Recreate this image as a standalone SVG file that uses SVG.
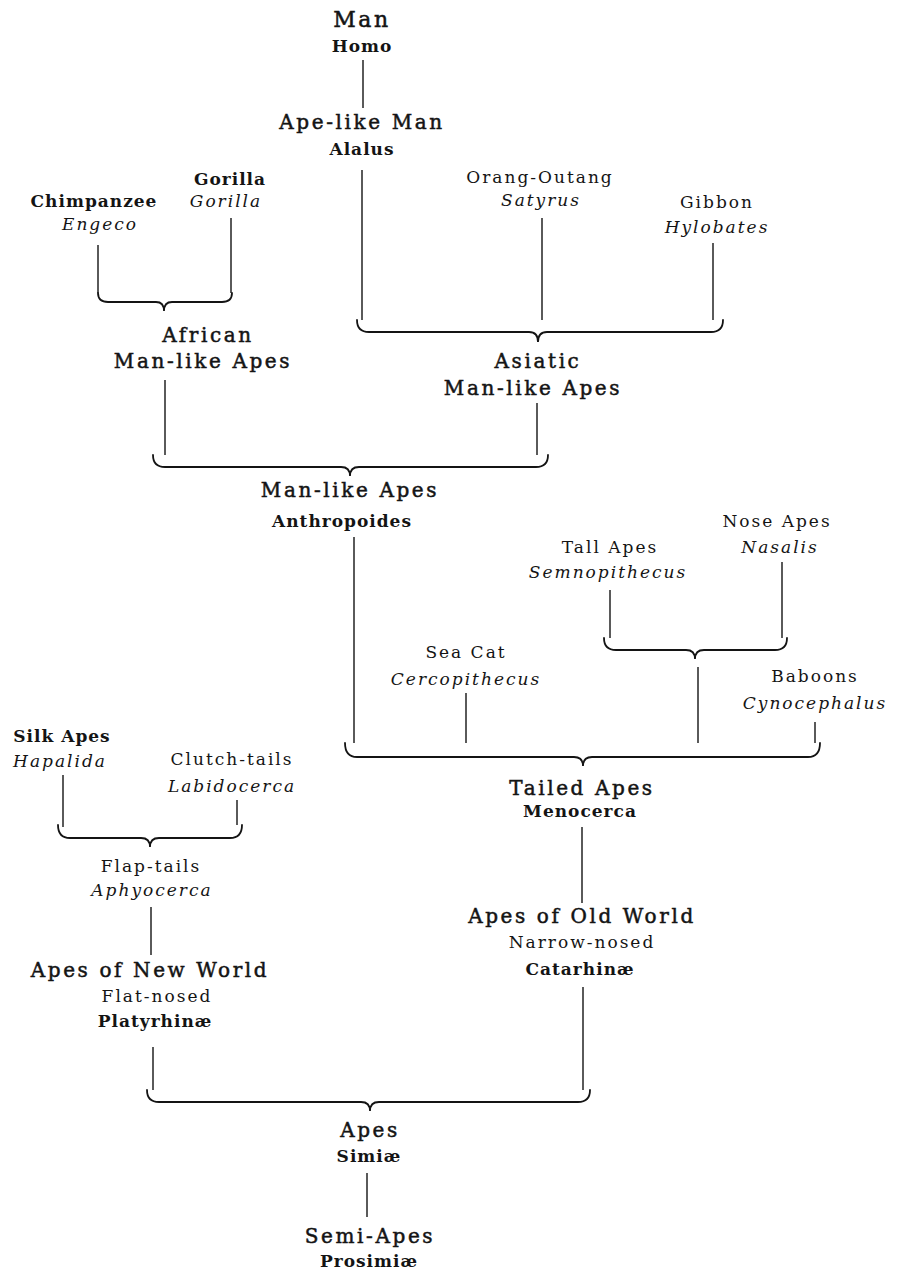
<svg xmlns="http://www.w3.org/2000/svg" width="899" height="1270" viewBox="0 0 899 1270">
  <style>
    text { fill: #141414; text-anchor: middle; font-family: "DejaVu Serif", "Liberation Serif", serif; }
    .frak { font-size: 20px; letter-spacing: 2.6px; stroke: #141414; stroke-width: 0.5px; }
    .reg { font-size: 17px; letter-spacing: 2px; }
    .bold { font-size: 17px; font-weight: bold; letter-spacing: 1px; }
    .ital { font-size: 17px; font-style: italic; letter-spacing: 2px; }
    .line { stroke: #141414; stroke-width: 1.4; fill: none; }
    .brace { stroke: #141414; stroke-width: 1.8; fill: none; stroke-linecap: round; }
  </style>
  <rect width="899" height="1270" fill="#ffffff"/>

  <!-- connectors: vertical stems and grouping braces -->
  <g id="connectors">
    <line class="line" x1="363" y1="60" x2="363" y2="108"/>
    <line class="line" x1="362" y1="170" x2="362" y2="320"/>
    <line class="line" x1="98" y1="245" x2="98" y2="293"/>
    <line class="line" x1="231" y1="218" x2="231" y2="293"/>
    <line class="line" x1="542" y1="218" x2="542" y2="320"/>
    <line class="line" x1="713" y1="243" x2="713" y2="320"/>
    <line class="line" x1="165" y1="380" x2="165" y2="455"/>
    <line class="line" x1="537" y1="403" x2="537" y2="455"/>
    <line class="line" x1="354" y1="537" x2="354" y2="743"/>
    <line class="line" x1="610" y1="590" x2="610" y2="638"/>
    <line class="line" x1="782" y1="562" x2="782" y2="638"/>
    <line class="line" x1="698" y1="667" x2="698" y2="743"/>
    <line class="line" x1="466" y1="693" x2="466" y2="743"/>
    <line class="line" x1="815" y1="722" x2="815" y2="743"/>
    <line class="line" x1="63" y1="775" x2="63" y2="827"/>
    <line class="line" x1="237" y1="800" x2="237" y2="825"/>
    <line class="line" x1="151" y1="907" x2="151" y2="955"/>
    <line class="line" x1="582" y1="827" x2="582" y2="903"/>
    <line class="line" x1="153" y1="1047" x2="153" y2="1090"/>
    <line class="line" x1="583" y1="987" x2="583" y2="1090"/>
    <line class="line" x1="367" y1="1173" x2="367" y2="1217"/>

    <!-- braces: left hook, bar, centre cusp, bar, right hook -->
    <path class="brace" d="M98,293 Q98,302 108,302 L156,302 Q164,302 164,311 Q164,302 172,302 L222,302 Q232,302 232,293"/>
    <path class="brace" d="M357,320 Q357,332 369,332 L529,332 Q538,332 538,342 Q538,332 547,332 L711,332 Q723,332 723,320"/>
    <path class="brace" d="M153,455 Q153,467 165,467 L341,467 Q350,467 350,476 Q350,467 359,467 L536,467 Q548,467 548,455"/>
    <path class="brace" d="M604,638 Q604,650 616,650 L686,650 Q695,650 695,659 Q695,650 704,650 L775,650 Q787,650 787,638"/>
    <path class="brace" d="M345,743 Q345,757 357,757 L574,757 Q583,757 583,766 Q583,757 592,757 L808,757 Q820,757 820,743"/>
    <path class="brace" d="M58,825 Q58,838 70,838 L141,838 Q150,838 150,847 Q150,838 159,838 L230,838 Q242,838 242,825"/>
    <path class="brace" d="M147,1090 Q147,1102 159,1102 L361,1102 Q370,1102 370,1111 Q370,1102 379,1102 L578,1102 Q590,1102 590,1090"/>
  </g>

  <g id="man"><text class="frak" x="362" y="27" style="font-size:22px">Man</text><text class="bold" x="362" y="52">Homo</text></g>
  <g id="ape-like-man"><text class="frak" x="362" y="129">Ape-like Man</text><text class="bold" x="362" y="155">Alalus</text></g>
  <g id="gorilla"><text class="bold" x="230" y="185">Gorilla</text><text class="ital" x="226" y="207">Gorilla</text></g>
  <g id="chimpanzee"><text class="bold" x="94" y="207">Chimpanzee</text><text class="ital" x="100" y="230">Engeco</text></g>
  <g id="orang-outang"><text class="reg" x="540" y="183">Orang-Outang</text><text class="ital" x="541" y="206">Satyrus</text></g>
  <g id="gibbon"><text class="reg" x="717" y="208">Gibbon</text><text class="ital" x="717" y="233">Hylobates</text></g>
  <g id="african-man-like-apes"><text class="frak" x="208" y="342">African</text><text class="frak" x="203" y="368">Man-like Apes</text></g>
  <g id="asiatic-man-like-apes"><text class="frak" x="538" y="368">Asiatic</text><text class="frak" x="533" y="395">Man-like Apes</text></g>
  <g id="man-like-apes"><text class="frak" x="350" y="497">Man-like Apes</text><text class="bold" x="342" y="527">Anthropoides</text></g>
  <g id="nose-apes"><text class="reg" x="777" y="527">Nose Apes</text><text class="ital" x="780" y="553">Nasalis</text></g>
  <g id="tall-apes"><text class="reg" x="610" y="553">Tall Apes</text><text class="ital" x="608" y="578">Semnopithecus</text></g>
  <g id="sea-cat"><text class="reg" x="466" y="658">Sea Cat</text><text class="ital" x="466" y="685">Cercopithecus</text></g>
  <g id="baboons"><text class="reg" x="815" y="682">Baboons</text><text class="ital" x="815" y="709">Cynocephalus</text></g>
  <g id="tailed-apes"><text class="frak" x="582" y="795">Tailed Apes</text><text class="bold" x="580" y="817">Menocerca</text></g>
  <g id="silk-apes"><text class="bold" x="62" y="742">Silk Apes</text><text class="ital" x="60" y="767">Hapalida</text></g>
  <g id="clutch-tails"><text class="reg" x="232" y="765">Clutch-tails</text><text class="ital" x="232" y="792">Labidocerca</text></g>
  <g id="flap-tails"><text class="reg" x="151" y="872">Flap-tails</text><text class="ital" x="152" y="896">Aphyocerca</text></g>
  <g id="apes-old-world"><text class="frak" x="582" y="923">Apes of Old World</text><text class="reg" x="582" y="948">Narrow-nosed</text><text class="bold" x="580" y="975">Catarhinæ</text></g>
  <g id="apes-new-world"><text class="frak" x="150" y="977">Apes of New World</text><text class="reg" x="157" y="1002">Flat-nosed</text><text class="bold" x="155" y="1027">Platyrhinæ</text></g>
  <g id="apes"><text class="frak" x="370" y="1137">Apes</text><text class="bold" x="369" y="1162">Simiæ</text></g>
  <g id="semi-apes"><text class="frak" x="370" y="1243">Semi-Apes</text><text class="bold" x="369" y="1267">Prosimiæ</text></g>
</svg>
